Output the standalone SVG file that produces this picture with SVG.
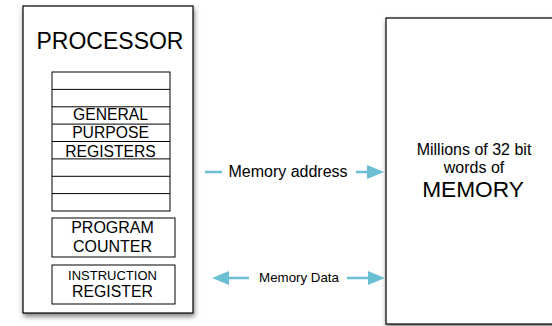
<svg xmlns="http://www.w3.org/2000/svg" width="552" height="326" viewBox="0 0 552 326">
<style>
.box{fill:#fff;stroke:#000;stroke-width:1.2}
.reg{fill:#fff;stroke:#000;stroke-width:1}
.t{font-family:"Liberation Sans",Arial,sans-serif;fill:#000;text-anchor:middle}
.c{stroke:#6bbfd3;stroke-width:2.5;fill:none}
.ah{fill:#6bbfd3}
</style>
<defs>
<filter id="sh" x="-20%" y="-20%" width="140%" height="140%">
<feDropShadow dx="1" dy="3" stdDeviation="2.5" flood-color="#000" flood-opacity="0.5"/>
</filter>
</defs>
<g id="processor">
<rect class="box" x="23" y="6" width="170" height="307" filter="url(#sh)"/>
<text class="t" x="110" y="48.5" font-size="23">PROCESSOR</text>
</g>
<g id="registers">
<rect class="reg" x="52" y="72" width="118" height="139"/>
<line x1="52" y1="89.4" x2="170" y2="89.4" stroke="#000"/>
<line x1="52" y1="106.8" x2="170" y2="106.8" stroke="#000"/>
<line x1="52" y1="124.1" x2="170" y2="124.1" stroke="#000"/>
<line x1="52" y1="141.5" x2="170" y2="141.5" stroke="#000"/>
<line x1="52" y1="158.9" x2="170" y2="158.9" stroke="#000"/>
<line x1="52" y1="176.3" x2="170" y2="176.3" stroke="#000"/>
<line x1="52" y1="193.6" x2="170" y2="193.6" stroke="#000"/>
<text class="t" x="110.5" y="120" font-size="15.7">GENERAL</text>
<text class="t" x="110.5" y="138" font-size="15.7">PURPOSE</text>
<text class="t" x="110.5" y="157" font-size="15.7">REGISTERS</text>
</g>
<g id="program-counter">
<rect class="reg" x="52" y="218" width="123" height="39"/>
<text class="t" x="112.5" y="233" font-size="16">PROGRAM</text>
<text class="t" x="112.5" y="252" font-size="16">COUNTER</text>
</g>
<g id="instruction-register">
<rect class="reg" x="52" y="265" width="123" height="39"/>
<text class="t" x="112.5" y="280" font-size="13">INSTRUCTION</text>
<text class="t" x="112.5" y="297" font-size="15.8">REGISTER</text>
</g>
<g id="memory">
<rect class="box" x="386" y="18" width="180" height="306" filter="url(#sh)"/>
<text class="t" x="474" y="155" font-size="16">Millions of 32 bit</text>
<text class="t" x="474" y="173" font-size="16">words of</text>
<text class="t" x="473" y="197" font-size="22.7">MEMORY</text>
</g>
<g id="connectors">
<line class="c" x1="205" y1="172" x2="222" y2="172"/>
<line class="c" x1="356" y1="172" x2="368" y2="172"/>
<polygon class="ah" points="384,172 367,165 367,179"/>
<text class="t" x="288" y="177" font-size="16">Memory address</text>
<polygon class="ah" points="212,278 229,271 229,285"/>
<line class="c" x1="228" y1="278" x2="249" y2="278"/>
<line class="c" x1="347" y1="278" x2="369" y2="278"/>
<polygon class="ah" points="385,278 368,271 368,285"/>
<text class="t" x="299" y="282" font-size="13.3">Memory Data</text>
</g>
</svg>
